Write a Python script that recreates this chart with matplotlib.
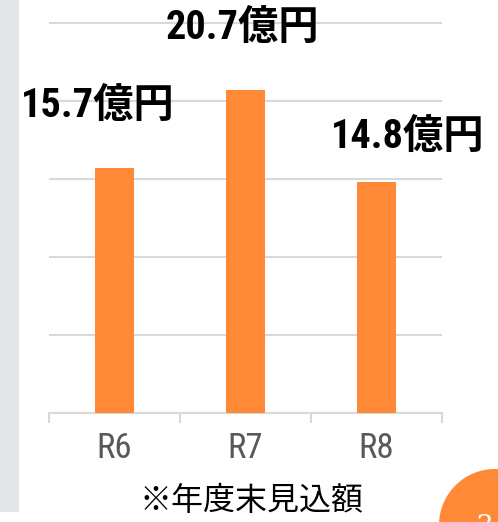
import matplotlib
matplotlib.use("Agg")
import matplotlib.pyplot as plt
from matplotlib import font_manager
from matplotlib.patches import Rectangle, Circle

categories = ["R6", "R7", "R8"]
values = [15.7, 20.7, 14.8]
value_labels = ["15.7億円", "20.7億円", "14.8億円"]
note = "※年度末見込額"
page_no = "3"

# label placement (style)
label_x = [-0.126, 0.973, 2.24]
label_y = [19.7, 24.7, 17.7]

ORANGE = "#FF8937"
GRID = "#D9D9D9"

names = {f.name for f in font_manager.fontManager.ttflist}
narrow = None
for cand in ["Liberation Sans Narrow", "DejaVu Sans Condensed", "Roboto Condensed",
             "Open Sans Condensed"]:
    if cand in names:
        narrow = cand
        break
fam = ([narrow] if narrow else []) + ['Noto Sans CJK JP', 'DejaVu Sans']
plt.rcParams['font.family'] = fam

W, H = 498, 522
fig = plt.figure(figsize=(W / 100, H / 100), dpi=100)

# left gray strip
fig.add_artist(Rectangle((0, 1 - 512 / H), 19 / W, 512 / H, transform=fig.transFigure,
                         facecolor="#E4E5E7", edgecolor="none", zorder=0))

ymax = 25.2
px_per_unit = 390 / 25
ax_h = ymax * px_per_unit
ax = fig.add_axes([49 / W, (H - 413) / H, (442 - 49) / W, ax_h / H])
ax.set_facecolor("none")

x = list(range(len(categories)))
ax.bar(x, values, width=0.305, color=ORANGE, zorder=3)
ax.set_xlim(-0.5, 2.5)
ax.set_ylim(0, ymax)
ax.set_yticks([0, 5, 10, 15, 20, 25])
ax.yaxis.grid(True, color=GRID, linewidth=1.5, zorder=0)
ax.tick_params(axis='y', left=False, labelleft=False)
for s in ["top", "right", "left"]:
    ax.spines[s].set_visible(False)
ax.spines["bottom"].set_color(GRID)
ax.spines["bottom"].set_linewidth(1.5)

ax.set_xticks(x)
ax.set_xticklabels(categories, fontsize=25, color="#595959")
ax.tick_params(axis='x', which='major', length=0, pad=14)
ax.set_xticks([-0.5, 0.5, 1.5, 2.5], minor=True)
ax.tick_params(axis='x', which='minor', length=7.5, width=1.5, color=GRID)

for lx, ly, t in zip(label_x, label_y, value_labels):
    ax.text(lx, ly, t, ha='center', va='center', fontsize=29, fontweight='bold',
            color="black", zorder=5)

fig.text(252 / W, 1 - 501 / H, note, ha='center', va='center', fontsize=23,
         family=['Noto Sans CJK JP', 'DejaVu Sans'], color="black")

# page number circle
fig.add_artist(Circle((4.95, -0.03), 0.56, transform=fig.dpi_scale_trans,
                      facecolor=ORANGE, edgecolor="none"))
fig.text(485 / W, 1 - 514 / H, page_no, ha='center', va='top', fontsize=20,
         color="white", family=['DejaVu Serif'])

fig.savefig("out.png", dpi=100)
